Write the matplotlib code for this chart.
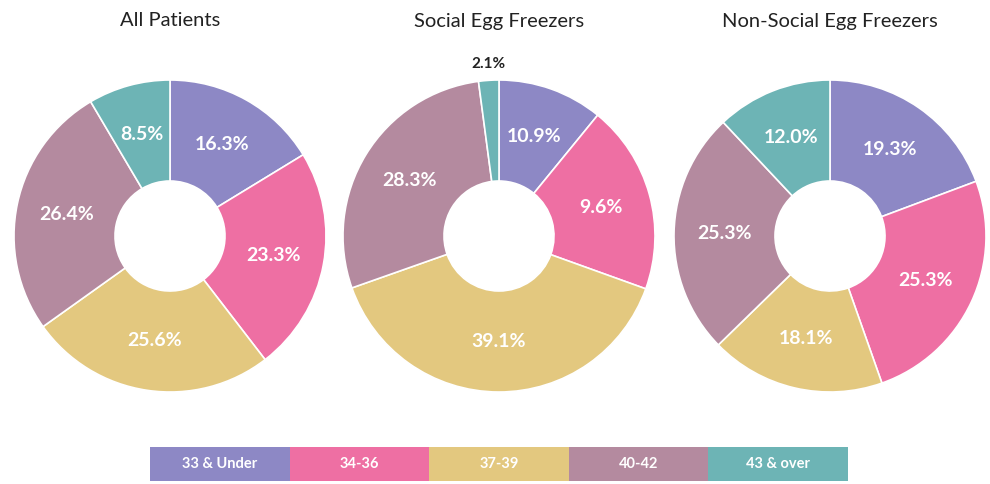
import numpy as np
import matplotlib.pyplot as plt
from matplotlib.patches import Rectangle

plt.rcParams['font.family'] = ['Lato', 'DejaVu Sans']

groups = ['33 & Under', '34-36', '37-39', '40-42', '43 & over']
colors = ['#8d88c5', '#ee6fa3', '#e3c87f', '#b48a9f', '#6db4b5']

titles = ['All Patients', 'Social Egg Freezers', 'Non-Social Egg Freezers']
all_patients = [16.3, 23.3, 25.6, 26.4, 8.5]
# slice sizes as drawn; the printed label for 34-36 reads 9.6%
social = [10.9, 19.6, 39.1, 28.3, 2.1]
social_labels = ['10.9%', '9.6%', '39.1%', '28.3%', '2.1%']
non_social = [19.3, 25.3, 18.1, 25.3, 12.0]
series = [all_patients, social, non_social]
labels = [[f'{v:.1f}%' for v in all_patients], social_labels,
          [f'{v:.1f}%' for v in non_social]]

W, H = 990, 484
fig = plt.figure(figsize=(W / 100, H / 100), dpi=100)

centers_x = [170, 499, 830]
cy = 236
R = 156
hole = 55

for cx, title, vals, labs in zip(centers_x, titles, series, labels):
    ax = fig.add_axes([(cx - R) / W, (H - cy - R) / H, 2 * R / W, 2 * R / H])
    wedges, _ = ax.pie(vals, colors=colors, startangle=90, counterclock=False, radius=1,
                       wedgeprops=dict(width=1 - hole / R, edgecolor='white', linewidth=1.2))
    ax.set_xlim(-1, 1)
    ax.set_ylim(-1, 1)
    ax.set_aspect('equal')
    ax.axis('off')
    mid_r = (1 + hole / R) / 2
    for w, v, lab in zip(wedges, vals, labs):
        ang = np.deg2rad((w.theta1 + w.theta2) / 2)
        if v < 5:
            ax.text(1.06 * np.cos(ang), 1.06 * np.sin(ang), lab, ha='center', va='bottom',
                    fontsize=11, fontweight='bold', color='#222222', clip_on=False)
        else:
            ax.text(mid_r * np.cos(ang), mid_r * np.sin(ang), lab, ha='center', va='center',
                    fontsize=14, fontweight='bold', color='white')
    fig.text(cx / W, 1 - 21 / H, title, ha='center', va='center', fontsize=14.5, color='#222222')

# legend bar
lax = fig.add_axes([150 / W, (H - 481) / H, 698 / W, 34 / H])
lax.set_xlim(0, len(groups))
lax.set_ylim(0, 1)
lax.axis('off')
for i, (g, c) in enumerate(zip(groups, colors)):
    lax.add_patch(Rectangle((i, 0), 1, 1, facecolor=c, edgecolor='none'))
    lax.text(i + 0.5, 0.5, g, ha='center', va='center', fontsize=10.5, color='white', fontweight='bold')

fig.savefig('out.png', dpi=100)
